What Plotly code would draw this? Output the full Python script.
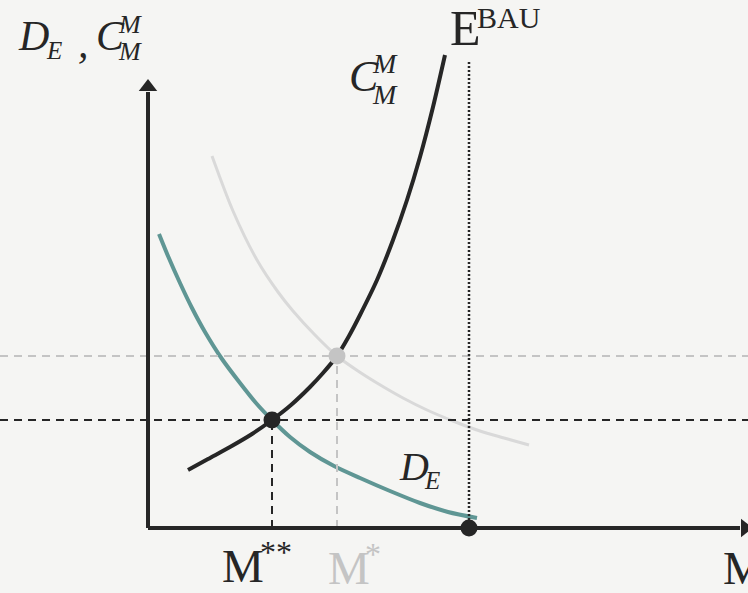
import plotly.graph_objects as go

BG = "#f5f5f3"
INK = "#262626"
TEAL = "#5f9694"
PALE = "#d9d9d9"
GREY = "#c4c4c4"
SERIF = "Liberation Serif"

# Marginal abatement cost curve C_M^M (quantity M, cost)
cost_m = [40, 60, 82, 104, 124, 143, 162, 175, 189, 201, 212, 229, 245, 259, 272, 285, 297]
cost_c = [58, 69, 81, 94, 108, 123, 141, 155, 172, 192, 213, 248, 288, 328, 371, 421, 473]

# Marginal damage curve D_E
dmg_m = [11, 20, 32, 44, 57, 74, 92, 108, 124, 142, 162, 186, 212, 242, 272, 300, 329]
dmg_d = [294, 272, 245, 220, 196, 169, 145, 125, 108, 91, 76, 62, 50, 37, 25, 16, 10]

# Earlier, higher damage curve
old_m = [64, 85, 109, 130, 145, 167, 189, 210, 229, 255, 279, 305, 332, 356, 381]
old_d = [372, 317, 268, 236, 217, 193, 172, 157, 145, 130, 118, 107, 97, 90, 83]

# Equilibria and business-as-usual level
eq_new = (124, 108)   # M**
eq_old = (189, 172)   # M*
m_bau = 321

X0, X1 = -148, 600
Y0, Y1 = -65, 528

fig = go.Figure()

# guide lines
dash = "8px,6px"
fig.add_shape(type="line", x0=X0, x1=X1, y0=eq_old[1], y1=eq_old[1],
              line=dict(color=GREY, width=2, dash=dash))
fig.add_shape(type="line", x0=eq_old[0], x1=eq_old[0], y0=0, y1=eq_old[1],
              line=dict(color=GREY, width=2, dash=dash))
fig.add_shape(type="line", x0=X0, x1=X1, y0=eq_new[1], y1=eq_new[1],
              line=dict(color=INK, width=2, dash=dash))
fig.add_shape(type="line", x0=eq_new[0], x1=eq_new[0], y0=0, y1=eq_new[1],
              line=dict(color=INK, width=2, dash=dash))
fig.add_shape(type="line", x0=m_bau, x1=m_bau, y0=0, y1=468,
              line=dict(color=INK, width=2.5, dash="2px,2px"))

# axes
fig.add_shape(type="line", x0=0, x1=0, y0=0, y1=436, line=dict(color=INK, width=4))
fig.add_shape(type="line", x0=0, x1=592, y0=0, y1=0, line=dict(color=INK, width=4))

# curves
fig.add_trace(go.Scatter(x=old_m, y=old_d, mode="lines",
                         line=dict(color=PALE, width=3, shape="spline", smoothing=0.8)))
fig.add_trace(go.Scatter(x=dmg_m, y=dmg_d, mode="lines",
                         line=dict(color=TEAL, width=4, shape="spline", smoothing=0.8)))
fig.add_trace(go.Scatter(x=cost_m, y=cost_c, mode="lines",
                         line=dict(color=INK, width=4, shape="spline", smoothing=0.8)))

# arrow heads
fig.add_trace(go.Scatter(x=[0], y=[441], mode="markers",
                         marker=dict(symbol="triangle-up", size=16, color=INK)))
fig.add_trace(go.Scatter(x=[597], y=[0], mode="markers",
                         marker=dict(symbol="triangle-right", size=16, color=INK)))

# equilibrium points
fig.add_trace(go.Scatter(x=[eq_old[0]], y=[eq_old[1]], mode="markers",
                         marker=dict(size=17, color=GREY)))
fig.add_trace(go.Scatter(x=[eq_new[0], m_bau], y=[eq_new[1], 0], mode="markers",
                         marker=dict(size=17, color=INK)))

def label(x, y, text, size, color=INK, italic=False, xanchor="left"):
    fig.add_annotation(x=x, y=y, text=text, showarrow=False,
                       xanchor=xanchor, yanchor="middle",
                       font=dict(family=SERIF, size=size, color=color,
                                 style="italic" if italic else "normal"))

# vertical axis title  D_E , C_M^M
label(-132, 492, "D", 42, italic=True)
label(-104, 478, "E", 25, italic=True)
label(-72, 485, ",", 42, italic=True)
label(-54, 492, "C", 42, italic=True)
label(-32, 504, "M", 26, italic=True)
label(-32, 477, "M", 26, italic=True)

# curve label C_M^M
label(199, 452, "C", 44, italic=True)
label(222, 465, "M", 28, italic=True)
label(222, 434, "M", 28, italic=True)

# curve label D_E
label(249, 62, "D", 40, italic=True)
label(274, 48, "E", 25, italic=True)

# E^BAU
label(300, 500, "E", 50)
label(327, 511, "BAU", 30)

# horizontal axis labels
label(72, -38, "M", 47)
label(110, -24, "**", 32)
label(178, -40, "M", 47, color=GREY)
label(215, -26, "*", 32, color=GREY)
label(573, -40, "M", 47)

fig.update_layout(
    width=748, height=593,
    margin=dict(l=0, r=0, t=0, b=0),
    paper_bgcolor=BG, plot_bgcolor=BG,
    showlegend=False,
    xaxis=dict(range=[X0, X1], visible=False, fixedrange=True),
    yaxis=dict(range=[Y0, Y1], visible=False, fixedrange=True),
)

fig.write_html("out.html")
